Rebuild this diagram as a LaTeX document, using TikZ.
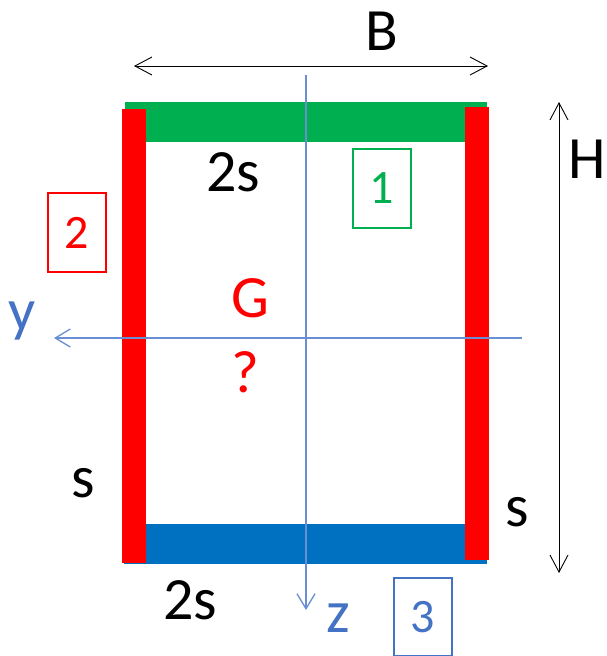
\documentclass[tikz,border=0pt]{standalone}
\usepackage{fontspec}
\setmainfont{Carlito}
\usetikzlibrary{arrows.meta,positioning}

\definecolor{flangeGreen}{HTML}{00B050}
\definecolor{webRed}{HTML}{FF0000}
\definecolor{flangeBlue}{HTML}{0070C0}
\definecolor{axisBlue}{HTML}{4472C4}
\definecolor{axisLine}{HTML}{6A8ED3}

\tikzset{
  dim/.style={black, line width=0.9pt, {Straight Barb[length=17pt,width=18pt]}-{Straight Barb[length=17pt,width=18pt]}},
  axis/.style={axisLine, line width=1.3pt, -{Straight Barb[length=15pt,width=18pt]}},
  lbl/.style={inner sep=0pt, font=\fontsize{60}{66}\selectfont},
  partbox/.style={draw, line width=1.3pt, minimum width=58pt, inner sep=0pt, font=\fontsize{48}{54}\selectfont}
}

\begin{document}
\begin{tikzpicture}[x=1pt,y=-1pt]
    \useasboundingbox (0,0) rectangle (607,656);

    % Flanges and webs
    \fill[flangeGreen] (125,102) rectangle (487,142);
    \fill[flangeBlue] (124,524) rectangle (487,564);
    \fill[webRed] (122,109) rectangle (146,563);
    \fill[webRed] (465,107) rectangle (489,560);

    % Dimension lines
    \coordinate (bLeft) at (134,66);
    \coordinate (bRight) at (488,66);
    \draw[dim] (bLeft) -- (bRight);
    \node[lbl] (labelB) at (382,31) {B};

    \coordinate (hTop) at (559,102);
    \coordinate (hBottom) at (559,573);
    \draw[dim] (hTop) -- (hBottom);
    \node[lbl] (labelH) at (587,159) {H};

    % Axes
    \coordinate (yStart) at (522,338);
    \coordinate (yEnd) at (54,338);
    \draw[axis] (yStart) -- (yEnd);
    \node[lbl, axisBlue] (labelY) at (22,321) {y};

    \coordinate (zStart) at (306,75);
    \coordinate (zEnd) at (306,610);
    \draw[axis] (zStart) -- (zEnd);
    \node[lbl, axisBlue] (labelZ) at (338,618) {z};

    % Thicknesses
    \node[lbl] (topThick) at (233,172) {2s};
    \node[lbl] (bottomThick) at (190,600) {2s};
    \node[lbl] (leftThick) at (83,483) {s};
    \node[lbl] (rightThick) at (517,512) {s};

    % Centroid
    \node[lbl, webRed] (centroid) at (250,298) {G};
    \node[lbl, webRed] (unknown) at (245,372) {?};

    % Part numbers
    \node[partbox, flangeGreen, minimum height=79pt] (partOne) at (382,188.5) {1};
    \node[partbox, webRed, minimum height=79pt] (partTwo) at (77,232.5) {2};
    \node[partbox, axisBlue, minimum height=78pt] (partThree) at (423,617) {3};
\end{tikzpicture}
\end{document}
